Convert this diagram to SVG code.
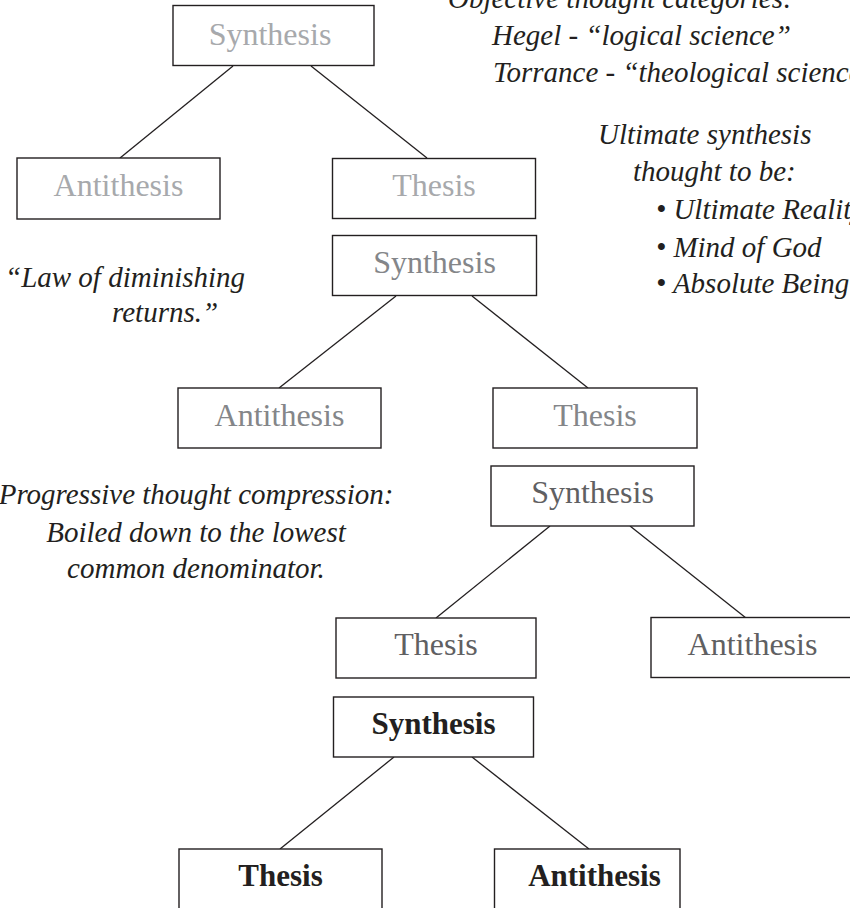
<svg xmlns="http://www.w3.org/2000/svg" width="850" height="908" viewBox="0 0 850 908">
<style>
  .box { fill: #ffffff; stroke: #231f20; stroke-width: 1.4; }
  .lbl { font-family: "Liberation Serif", "DejaVu Serif", serif; font-size: 32px; text-anchor: middle; }
  .l1 { fill: #a7a9ac; }
  .l2 { fill: #848689; }
  .l3 { fill: #5f6062; }
  .l4 { fill: #231f20; font-weight: bold; font-size: 31px; }
  .note { font-family: "Liberation Serif", "DejaVu Serif", serif; font-size: 29px; font-style: italic; fill: #231f20; }
  .conn line { stroke: #231f20; stroke-width: 1.3; }
</style>
<rect width="850" height="908" fill="#ffffff"/>

<g id="connectors" class="conn">
  <line x1="233" y1="66" x2="120" y2="158"/>
  <line x1="311" y1="66" x2="427" y2="158"/>
  <line x1="396" y1="296" x2="279" y2="388"/>
  <line x1="472" y1="296" x2="588" y2="388"/>
  <line x1="550" y1="526" x2="436" y2="618"/>
  <line x1="630" y1="526" x2="746" y2="618"/>
  <line x1="394" y1="757" x2="280" y2="849"/>
  <line x1="472" y1="757" x2="589" y2="849"/>
</g>

<g id="synthesis-1">
  <rect class="box" x="173" y="5.5" width="201" height="60"/>
  <text class="lbl l1" x="270" y="45">Synthesis</text>
</g>
<g id="antithesis-1">
  <rect class="box" x="17" y="158" width="203" height="61"/>
  <text class="lbl l1" x="118.5" y="195.5">Antithesis</text>
</g>
<g id="thesis-1">
  <rect class="box" x="332.5" y="158.5" width="203" height="60"/>
  <text class="lbl l1" x="434" y="195.5">Thesis</text>
</g>

<g id="synthesis-2">
  <rect class="box" x="332.5" y="235.5" width="204" height="60"/>
  <text class="lbl l2" x="434.5" y="273">Synthesis</text>
</g>
<g id="antithesis-2">
  <rect class="box" x="178" y="388" width="203" height="60"/>
  <text class="lbl l2" x="279.5" y="425.5">Antithesis</text>
</g>
<g id="thesis-2">
  <rect class="box" x="493" y="388" width="204" height="60"/>
  <text class="lbl l2" x="595" y="425.5">Thesis</text>
</g>

<g id="synthesis-3">
  <rect class="box" x="491" y="466" width="203" height="60"/>
  <text class="lbl l3" x="592.5" y="503">Synthesis</text>
</g>
<g id="thesis-3">
  <rect class="box" x="336" y="618" width="200" height="60"/>
  <text class="lbl l3" x="436" y="655">Thesis</text>
</g>
<g id="antithesis-3">
  <rect class="box" x="651" y="617.5" width="203" height="60"/>
  <text class="lbl l3" x="752.5" y="654.5">Antithesis</text>
</g>

<g id="synthesis-4">
  <rect class="box" x="333.5" y="697" width="200" height="60"/>
  <text class="lbl l4" x="433.5" y="734">Synthesis</text>
</g>
<g id="thesis-4">
  <rect class="box" x="179" y="849" width="203" height="70"/>
  <text class="lbl l4" x="280.5" y="886">Thesis</text>
</g>
<g id="antithesis-4">
  <rect class="box" x="494.5" y="849" width="185.5" height="70"/>
  <text class="lbl l4" x="594.5" y="886">Antithesis</text>
</g>

<g id="notes">
  <text class="note" x="448" y="8">Objective thought categories:</text>
  <text class="note" x="492" y="45">Hegel - “logical science”</text>
  <text class="note" x="493" y="82">Torrance - “theological science”</text>

  <text class="note" x="598" y="144">Ultimate synthesis</text>
  <text class="note" x="633" y="181">thought to be:</text>
  <text class="note" x="656" y="219">• Ultimate Reality</text>
  <text class="note" x="656" y="256.5">• Mind of God</text>
  <text class="note" x="656" y="293">• Absolute Being</text>

  <text class="note" x="5" y="286.5">“Law of diminishing</text>
  <text class="note" x="112" y="322">returns.”</text>

  <text class="note" x="196" y="504" text-anchor="middle">Progressive thought compression:</text>
  <text class="note" x="196" y="541.5" text-anchor="middle">Boiled down to the lowest</text>
  <text class="note" x="196" y="578" text-anchor="middle">common denominator.</text>
</g>
</svg>
